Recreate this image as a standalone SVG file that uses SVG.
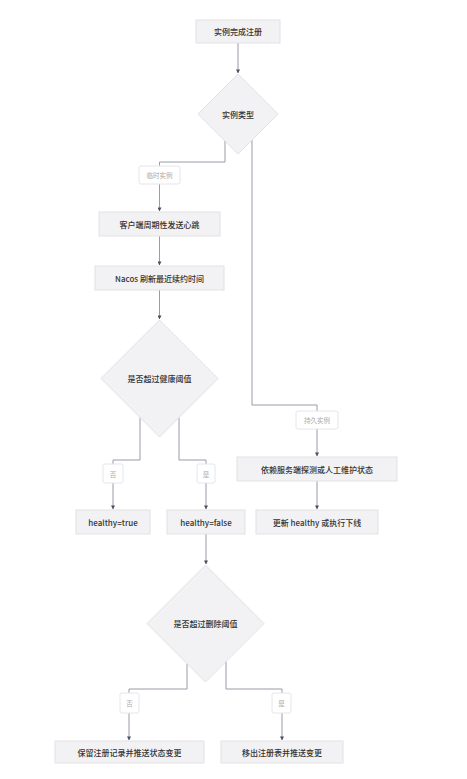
<svg xmlns="http://www.w3.org/2000/svg" width="467" height="779" viewBox="0 0 467 779">
<defs>
<style>
.n rect,.n polygon{fill:#f2f2f4;stroke:#e2e2e6;stroke-width:1}
.n text{font-family:"Noto Sans CJK SC","Liberation Sans",sans-serif;font-size:8px;font-weight:500;fill:#333;text-anchor:middle;dominant-baseline:central}
.e path{fill:none;stroke:#9a9aa8;stroke-width:1}
.lb rect{fill:#fff;stroke:#e6e6ea;stroke-width:1}
.lb text{font-family:"Noto Sans CJK SC","Liberation Sans",sans-serif;font-size:6.5px;fill:#aaa;text-anchor:middle;dominant-baseline:central}
</style>
<marker id="ah" viewBox="0 0 10 10" refX="9" refY="5" markerWidth="4" markerHeight="4" orient="auto" markerUnits="userSpaceOnUse">
<path d="M0,0 L10,5 L0,10 z" fill="#4a5060"/>
</marker>
</defs>
<rect width="467" height="779" fill="#fff"/>
<g id="connectors" class="e">
<path d="M238,43 V73" marker-end="url(#ah)"/>
<path d="M225,141 V162 H159.5 V211" marker-end="url(#ah)"/>
<path d="M252,140 V405 H317 V456" marker-end="url(#ah)"/>
<path d="M159.5,236 V265" marker-end="url(#ah)"/>
<path d="M159.5,290 V319" marker-end="url(#ah)"/>
<path d="M140,417.5 V460 H113 V509" marker-end="url(#ah)"/>
<path d="M179,417.5 V460 H206 V509" marker-end="url(#ah)"/>
<path d="M317,481 V509" marker-end="url(#ah)"/>
<path d="M206,534 V564" marker-end="url(#ah)"/>
<path d="M187,663.5 V689 H129 V740" marker-end="url(#ah)"/>
<path d="M226,661.5 V689 H282 V740" marker-end="url(#ah)"/>
</g>
<g id="labels">
<g class="lb" id="lbl-temp"><rect x="139" y="166" width="41" height="18" rx="2"/><text x="159.5" y="175">临时实例</text></g>
<g class="lb" id="lbl-persist"><rect x="296" y="411" width="42" height="18" rx="2"/><text x="317" y="420">持久实例</text></g>
<g class="lb" id="lbl-no1"><rect x="103" y="464" width="20" height="19" rx="2"/><text x="113" y="473.5">否</text></g>
<g class="lb" id="lbl-yes1"><rect x="197" y="464" width="18" height="19" rx="2"/><text x="206" y="473.5">是</text></g>
<g class="lb" id="lbl-no2"><rect x="120" y="693" width="19" height="20" rx="2"/><text x="129.5" y="703">否</text></g>
<g class="lb" id="lbl-yes2"><rect x="272" y="693" width="19" height="20" rx="2"/><text x="281.5" y="703">是</text></g>
</g>
<g id="n-register" class="n"><rect x="196" y="20" width="84" height="23"/><text x="238" y="31.5">实例完成注册</text></g>
<g id="n-type" class="n"><polygon points="238,74 278,114 238,154 198,114"/><text x="238" y="114">实例类型</text></g>
<g id="n-heartbeat" class="n"><rect x="99" y="212" width="121" height="24"/><text x="159.5" y="224">客户端周期性发送心跳</text></g>
<g id="n-refresh" class="n"><rect x="95" y="266" width="129" height="24"/><text x="159.5" y="278">Nacos 刷新最近续约时间</text></g>
<g id="n-health" class="n"><polygon points="159.5,320 218,378.5 159.5,437 101,378.5"/><text x="159.5" y="378.5">是否超过健康阈值</text></g>
<g id="n-true" class="n"><rect x="76" y="510" width="74" height="24"/><text x="113" y="522">healthy=true</text></g>
<g id="n-false" class="n"><rect x="167" y="510" width="78" height="24"/><text x="206" y="522">healthy=false</text></g>
<g id="n-probe" class="n"><rect x="237" y="457" width="160" height="24"/><text x="317" y="469">依赖服务端探测或人工维护状态</text></g>
<g id="n-update" class="n"><rect x="256" y="510" width="122" height="24"/><text x="317" y="522">更新 healthy 或执行下线</text></g>
<g id="n-delete" class="n"><polygon points="205.5,565 264,623.5 205.5,682 147,623.5"/><text x="205.5" y="623.5">是否超过删除阈值</text></g>
<g id="n-keep" class="n"><rect x="55" y="741" width="149" height="22"/><text x="129.5" y="752">保留注册记录并推送状态变更</text></g>
<g id="n-remove" class="n"><rect x="221" y="741" width="122" height="22"/><text x="282" y="752">移出注册表并推送变更</text></g>
</svg>
